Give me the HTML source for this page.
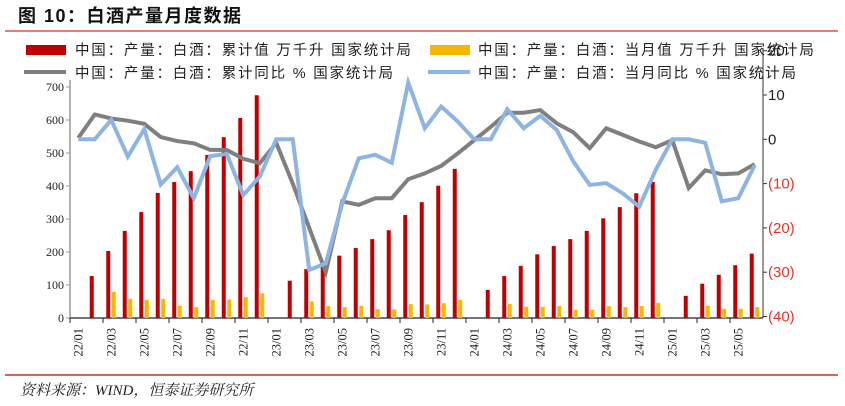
<!DOCTYPE html>
<html><head><meta charset="utf-8">
<style>
body{margin:0;background:#fff;width:845px;height:406px;overflow:hidden;}
svg{display:block;}
.cjk{font-family:"Liberation Sans","Noto Sans CJK SC",sans-serif;}
</style></head>
<body>
<svg id="chart" width="845" height="406" xmlns="http://www.w3.org/2000/svg">
<text x="18" y="22" font-size="18" font-weight="bold" class="cjk" fill="#111" letter-spacing="1.5">图 10：白酒产量月度数据</text>
<line x1="5" y1="31" x2="838" y2="31" stroke="#d9534f" stroke-width="1.5"/>
<line x1="5" y1="375" x2="838" y2="375" stroke="#c9302c" stroke-width="1.5"/>
<text x="20" y="395" font-size="15" font-style="italic" font-family="'Liberation Serif','Noto Serif CJK SC',serif" fill="#222">资料来源：WIND，恒泰证券研究所</text>
<g id="axes"></g>
<g id="bars"></g>
<g id="lines"></g>
<g id="legend" class="cjk" font-size="14.5" fill="#222">
<rect x="26" y="45" width="40" height="10" fill="#c00000"/>
<text x="75" y="55" letter-spacing="1.8">中国：产量：白酒：累计值 万千升 国家统计局</text>
<rect x="430" y="45" width="40" height="10" fill="#f5b800"/>
<text x="478" y="55" letter-spacing="1.8">中国：产量：白酒：当月值 万千升 国家统计局</text>
<line x1="24" y1="72" x2="66" y2="72" stroke="#7f7f7f" stroke-width="4"/>
<text x="75" y="78" letter-spacing="1.8">中国：产量：白酒：累计同比 % 国家统计局</text>
<line x1="428" y1="72" x2="470" y2="72" stroke="#8db4e2" stroke-width="4"/>
<text x="478" y="78" letter-spacing="1.8">中国：产量：白酒：当月同比 % 国家统计局</text>
</g>
</svg>
<script>
const months=["22/01","22/02","22/03","22/04","22/05","22/06","22/07","22/08","22/09","22/10","22/11","22/12","23/01","23/02","23/03","23/04","23/05","23/06","23/07","23/08","23/09","23/10","23/11","23/12","24/01","24/02","24/03","24/04","24/05","24/06","24/07","24/08","24/09","24/10","24/11","24/12","25/01","25/02","25/03","25/04","25/05","25/06"];
const cumValue=[null,127,203,264,321,379,412,445,494,548,606,675,null,113,148,158,189,212,239,266,312,351,401,452,null,85,127,158,193,218,239,264,302,336,378,412,null,67,104,131,160,195];
const monthValue=[null,null,79,58,55,58,37,33,55,56,63,75,null,null,50,36,33,37,27,26,42,41,45,55,null,null,43,34,34,36,25,25,36,33,36,46,null,null,37,28,28,33];
const cumYoy=[0.3,5.6,4.7,4.2,3.5,0.5,-0.4,-0.9,-2.4,-2.4,-4.4,-5.4,-0.8,-10,-20,-30,-14,-14.8,-13.3,-13.3,-9,-7.7,-6,-3.2,-0.2,2.8,6,6,6.6,3.6,1.6,-2,2.5,1,-0.5,-1.8,-0.2,-11,-7,-7.9,-7.7,-5.6];
const monthYoy=[0,0,4.4,-3.9,2.3,-10.2,-6.3,-13.3,-3.8,-3.3,-12.6,-8.4,0,0,-29.5,-28,-14.5,-4.3,-3.5,-5.3,12.8,2.5,7.4,4,0,0,6.8,2.5,5.3,2.1,-5,-10.3,-9.9,-12.2,-15.2,-6.9,0,0,-0.8,-14,-13.3,-5.8];
const leftTicks=[0,100,200,300,400,500,600,700];
const rightTicks=[-40,-30,-20,-10,0,10,20];

const X0=70,X1=763,Y0=318;
const step=(X1-X0)/months.length;
const xc=i=>X0+step*(i+0.5);
const yL=v=>Y0-v*(231/700);
const yR=v=>139.3-v*4.43;
const NS="http://www.w3.org/2000/svg";
function mk(tag,attrs,parent){const e=document.createElementNS(NS,tag);for(const k in attrs)e.setAttribute(k,attrs[k]);document.getElementById(parent).appendChild(e);return e;}

let a=mk('line',{x1:X0,y1:80,x2:X0,y2:Y0,stroke:'#999','stroke-width':1.5},'axes');


a=mk('line',{x1:X1,y1:48,x2:X1,y2:Y0,stroke:'#333','stroke-width':1},'axes');


a=mk('line',{x1:X0,y1:Y0,x2:X1,y2:Y0,stroke:'#222','stroke-width':1.2},'axes');


leftTicks.forEach(v=>{
  mk('line',{x1:X0-4,y1:yL(v),x2:X0,y2:yL(v),stroke:'#999'},'axes');
  const t=mk('text',{x:X0-6,y:yL(v)+4,'text-anchor':'end','font-size':12,'font-family':'Liberation Serif,serif',fill:'#222'},'axes');
  t.textContent=v;
  
  
});
rightTicks.forEach(v=>{
  mk('line',{x1:X1,y1:yR(v),x2:X1+4,y2:yR(v),stroke:'#333'},'axes');
  const t=mk('text',{x:X1+5,y:yR(v)+5,'font-size':15,'font-family':'Liberation Sans,sans-serif',fill:v<0?'#e8312a':'#222'},'axes');
  t.textContent=v<0?'('+(-v)+')':v;
  
  
});
months.forEach((m,i)=>{
  if(i%2===0){
    mk('line',{x1:X0+step*i,y1:Y0,x2:X0+step*i,y2:Y0+5,stroke:'#222'},'axes');
    const cx=xc(i)+4,cy=Y0+10;
    const t=mk('text',{x:cx,y:cy,'text-anchor':'end','font-size':12.5,'font-family':'Liberation Serif,serif',fill:'#222',transform:`rotate(-90 ${cx} ${cy})`},'axes');
    t.textContent=m;
    
    
  }
});
cumValue.forEach((v,i)=>{
  if(v==null)return;
  const r=mk('rect',{x:xc(i)-5,y:yL(v),width:4,height:Y0-yL(v),fill:'#c00000'},'bars');
  
  
});
monthValue.forEach((v,i)=>{
  if(v==null)return;
  const r=mk('rect',{x:xc(i)+0.5,y:yL(v),width:4,height:Y0-yL(v),fill:'#f5b800'},'bars');
  
  
});
function line(arr,color,name){
  const p=mk('polyline',{points:arr.map((v,i)=>xc(i)+','+yR(v)).join(' '),fill:'none',stroke:color,'stroke-width':4,'stroke-linejoin':'miter'},'lines');
  
  
}
line(cumYoy,'#7f7f7f','line-cumulative-yoy');
line(monthYoy,'#8db4e2','line-monthly-yoy');
</script>
</body></html>
